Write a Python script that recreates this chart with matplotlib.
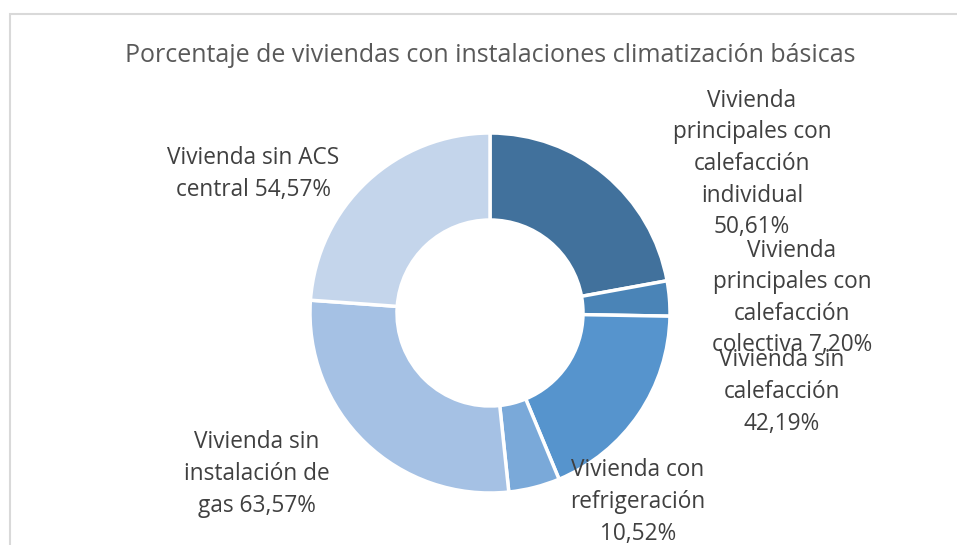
import matplotlib
matplotlib.use("Agg")
import matplotlib.pyplot as plt
from matplotlib.patches import Rectangle

plt.rcParams['font.family'] = ['Open Sans', 'DejaVu Sans']

# datos de la gráfica de anillo
categorias = [
    "Vivienda\nprincipales con\ncalefacción\nindividual",
    "Vivienda\nprincipales con\ncalefacción\ncolectiva",
    "Vivienda sin\ncalefacción",
    "Vivienda con\nrefrigeración",
    "Vivienda sin\ninstalación de\ngas",
    "Vivienda sin ACS\ncentral",
]
porcentajes = [50.61, 7.20, 42.19, 10.52, 63.57, 54.57]
colores = ["#41719c", "#4a84b7", "#5694cd", "#7aa9d9", "#a5c1e4", "#c4d5eb"]

# posición de cada etiqueta en píxeles (x, y desde arriba) y separador del valor
pos_etiquetas = [(752, 164), (792, 298), (782, 392), (638, 502), (257, 474), (253, 174)]
separadores = ["\n", " ", "\n", "\n", " ", " "]

W, H = 957, 545
fig = plt.figure(figsize=(W / 100, H / 100), dpi=100)
ax = fig.add_axes([0, 0, 1, 1])

# marco del área del gráfico
ax.add_patch(Rectangle((9.5, -20), W + 20, H - 14 + 20, fill=False,
                       edgecolor="#d9d9d9", linewidth=1.5))

cx, cy, r = 490, H - 313, 180
ax.pie(porcentajes, colors=colores, startangle=90, counterclock=False,
       center=(cx, cy), radius=r, frame=True,
       wedgeprops=dict(width=87, edgecolor="white", linewidth=2.5))
ax.set_xlim(0, W)
ax.set_ylim(0, H)
ax.set_aspect('equal')
ax.axis('off')

ax.text(490, H - 56, "Porcentaje de viviendas con instalaciones climatización básicas",
        ha='center', va='center', fontsize=18, color="#595959")

for cat, val, sep, (x, y) in zip(categorias, porcentajes, separadores, pos_etiquetas):
    valor = f"{val:.2f}".replace(".", ",") + "%"
    ax.text(x, H - y, cat + sep + valor, ha='center', va='center', fontsize=16.3,
            color="#404040", linespacing=1.42)

fig.savefig("out.png", dpi=100)
